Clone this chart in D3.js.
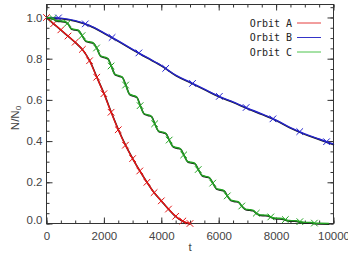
<!DOCTYPE html>
<html><head><meta charset="utf-8">
<script src="https://cdn.jsdelivr.net/npm/d3@7"></script>
<style>
html,body{margin:0;padding:0;background:#fff;}
svg{display:block;}
</style></head>
<body>
<svg id="chart" width="348" height="255"></svg>
<script>
// ---- data ----
const xTicks = [0, 2000, 4000, 6000, 8000, 10000];
const yTicks = [0.0, 0.2, 0.4, 0.6, 0.8, 1.0];
const seriesNames = ["Orbit A", "Orbit B", "Orbit C"];

// Orbit A (red)
const tA = [0,250,500,750,1000,1250,1500,1750,2000,2250,2500,2750,3000,3250,3500,3750,4000,4250,4500,4750,5000];
const nA = [1.0,0.97,0.94,0.91,0.88,0.845,0.79,0.71,0.63,0.54,0.455,0.38,0.315,0.255,0.20,0.15,0.11,0.07,0.035,0.012,0.0];

// Orbit B (blue)
const tB = [0,500,1000,1500,2000,2500,3000,3500,4000,4500,5000,5500,6000,6500,7000,7500,8000,8500,9000,9500,10000];
const nB = [1.0,0.997,0.985,0.962,0.925,0.886,0.845,0.806,0.767,0.72,0.686,0.652,0.618,0.59,0.56,0.532,0.502,0.465,0.435,0.41,0.385];
const tBmark = [418,1352,2286,3220,4154,5088,6022,6956,7890,8824,9758];
const nBmark = [0.998,0.969,0.903,0.828,0.753,0.680,0.617,0.563,0.508,0.446,0.397];

// Orbit C (green, stepwise decline)
const tC = [0,100,226,353,479,606,732,859,985,1112,1238,1365,1491,1618,1744,1871,1997,2124,2250,2377,2503,2630,2756,2883,3009,3136,3262,3389,3515,3642,3768,3895,4021,4148,4274,4401,4527,4654,4780,4907,5033,5160,5286,5413,5539,5666,5792,5919,6045,6172,6298,6425,6551,6678,6804,6931,7057,7184,7310,7437,7563,7690,7816,7943,8069,8196,8322,8449,8575,8702,8828,8955,9081,9208,9334,9500,9840];
const nC = [1.0,0.999,0.995,0.985,0.9835,0.982,0.972,0.946,0.942,0.938,0.912,0.886,0.882,0.878,0.852,0.815,0.8085,0.802,0.765,0.725,0.7185,0.712,0.672,0.629,0.622,0.615,0.572,0.534,0.528,0.522,0.484,0.450,0.4445,0.439,0.405,0.374,0.369,0.364,0.333,0.302,0.2975,0.293,0.262,0.234,0.229,0.224,0.196,0.169,0.165,0.161,0.134,0.113,0.1095,0.106,0.085,0.070,0.0675,0.065,0.050,0.042,0.041,0.040,0.032,0.0264,0.0255,0.0246,0.019,0.0147,0.014,0.0133,0.009,0.006,0.0055,0.005,0.002,0.001,0.0];
const tCmark = [226,732,1238,1744,2250,2756,3262,3768,4274,4780,5286,5792,6298,6804,7310,7816,8322,8828,9334];
const nCmark = [0.995,0.972,0.912,0.852,0.765,0.672,0.572,0.484,0.405,0.333,0.262,0.196,0.134,0.085,0.050,0.032,0.019,0.009,0.002];

const colors = ["#e41414", "#2424cc", "#22a322"];
const legendColors = ["#e43c3c", "#3434c8", "#4cc44c"];

// ---- drawing ----
const svg = d3.select("#chart");
const L = 46.5, R = 333.5, T = 4.5, B = 223.5;
const x = d3.scaleLinear().domain([0, 10000]).range([L, R]);
const y = d3.scaleLinear().domain([0, 1.063]).range([B, T]);

const axisColor = "#333";
const labelColor = "#444";
const font = "Liberation Sans, Arial, sans-serif";

function styleAxis(g) {
  g.select(".domain").remove();
  g.selectAll("line").attr("stroke", axisColor).attr("stroke-width", 1);
  g.selectAll("text").attr("fill", labelColor).attr("font-family", font).attr("font-size", 11.5);
}
const minorX = d3.range(0, 10001, 500);
const minorY = d3.range(0, 1.06, 0.05);

// bottom
svg.append("g").attr("transform", `translate(0,${B})`)
  .call(d3.axisBottom(x).tickValues(xTicks).tickSizeInner(-6).tickSizeOuter(0).tickPadding(8).tickFormat(d3.format("d")))
  .call(styleAxis);
svg.append("g").attr("transform", `translate(0,${B})`)
  .call(d3.axisBottom(x).tickValues(minorX).tickSizeInner(-3).tickSizeOuter(0).tickFormat(""))
  .call(styleAxis);
// top
svg.append("g").attr("transform", `translate(0,${T})`)
  .call(d3.axisTop(x).tickValues(xTicks).tickSizeInner(-6).tickSizeOuter(0).tickFormat(""))
  .call(styleAxis);
svg.append("g").attr("transform", `translate(0,${T})`)
  .call(d3.axisTop(x).tickValues(minorX).tickSizeInner(-3).tickSizeOuter(0).tickFormat(""))
  .call(styleAxis);
// left
const leftAx = svg.append("g").attr("transform", `translate(${L},0)`)
  .call(d3.axisLeft(y).tickValues(yTicks).tickSizeInner(-6).tickSizeOuter(0).tickPadding(4).tickFormat(d3.format(".1f")))
  .call(styleAxis);
leftAx.selectAll(".tick").filter(d => d === 0).select("text").attr("dy", "0.0em");
svg.append("g").attr("transform", `translate(${L},0)`)
  .call(d3.axisLeft(y).tickValues(minorY).tickSizeInner(-3).tickSizeOuter(0).tickFormat(""))
  .call(styleAxis);
// right
svg.append("g").attr("transform", `translate(${R},0)`)
  .call(d3.axisRight(y).tickValues(yTicks).tickSizeInner(-6).tickSizeOuter(0).tickFormat(""))
  .call(styleAxis);
svg.append("g").attr("transform", `translate(${R},0)`)
  .call(d3.axisRight(y).tickValues(minorY).tickSizeInner(-3).tickSizeOuter(0).tickFormat(""))
  .call(styleAxis);

// frame
svg.append("rect").attr("x", L).attr("y", T).attr("width", R - L).attr("height", B - T)
  .attr("fill", "none").attr("stroke", axisColor).attr("stroke-width", 1);

// curves
const line = d3.line().x(d => x(d[0])).y(d => y(d[1])).curve(d3.curveMonotoneX);
const series = [
  { pts: d3.zip(tA, nA), marks: d3.zip(tA, nA) },
  { pts: d3.zip(tB, nB), marks: d3.zip(tBmark, nBmark) },
  { pts: d3.zip(tC, nC), marks: d3.zip(tCmark, nCmark) }
];
const plot = svg.append("g");
series.forEach((s, i) => {
  plot.append("path").datum(s.pts).attr("d", line)
    .attr("transform", "translate(0.5,0.7)")
    .attr("fill", "none").attr("stroke", "#1a1a1a").attr("stroke-width", 1.5);
  plot.append("path").datum(s.pts).attr("d", line)
    .attr("fill", "none").attr("stroke", colors[i]).attr("stroke-width", 1.4);
  const m = 3.3;
  plot.append("g").selectAll("path").data(s.marks).join("path")
    .attr("d", d => {
      const cx = x(d[0]), cy = y(d[1]);
      return `M${cx - m},${cy - m}L${cx + m},${cy + m}M${cx - m},${cy + m}L${cx + m},${cy - m}`;
    })
    .attr("stroke", colors[i]).attr("stroke-width", 1).attr("fill", "none");
});

// axis titles
svg.append("text").attr("x", x(5000)).attr("y", 251)
  .attr("text-anchor", "middle").attr("font-family", font).attr("font-size", 11.5)
  .attr("fill", labelColor).text("t");
const yl = svg.append("text").attr("transform", "translate(19,118) rotate(-90)")
  .attr("text-anchor", "middle").attr("font-family", font).attr("font-size", 11.5)
  .attr("fill", labelColor);
yl.append("tspan").text("N/N");
yl.append("tspan").attr("font-size", 8).attr("dy", 2).text("0");

// legend
const legY = [23, 37.5, 52];
seriesNames.forEach((name, i) => {
  svg.append("text").attr("x", 292).attr("y", legY[i] + 3.7)
    .attr("text-anchor", "end").attr("font-family", "DejaVu Sans Mono, monospace")
    .attr("font-size", 10).attr("fill", "#222").text(name);
  svg.append("line").attr("x1", 297).attr("x2", 321).attr("y1", legY[i]).attr("y2", legY[i])
    .attr("stroke", legendColors[i]).attr("stroke-width", 1);
});
</script>
</body></html>
